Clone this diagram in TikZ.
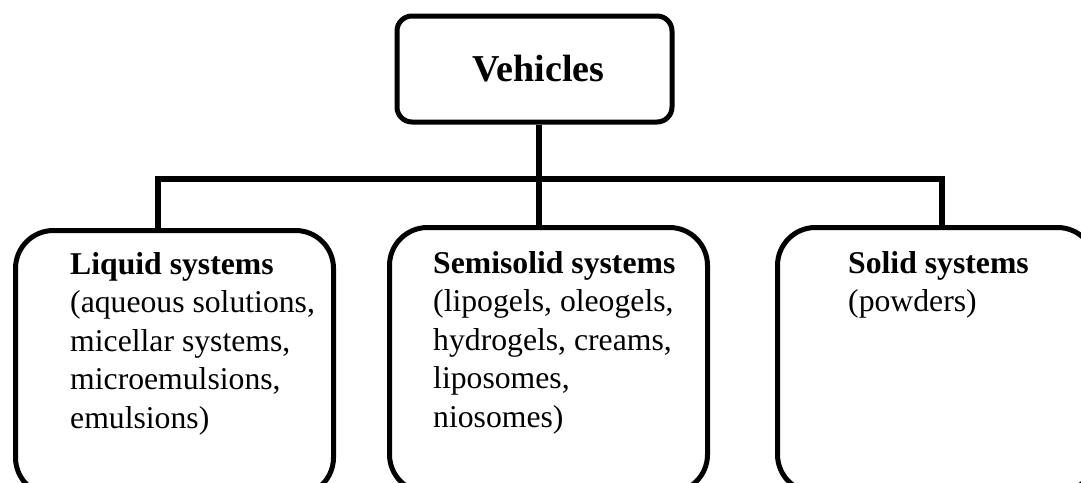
\documentclass[tikz,border=0pt]{standalone}
\usepackage{fontspec}
\setmainfont{Liberation Serif}
\begin{document}
\begin{tikzpicture}[x=1pt,y=-1pt,
  topbox/.style={draw, line width=5pt, rounded corners=15pt, inner sep=0pt,
    minimum width=275pt, minimum height=106pt,
    font=\fontsize{38}{45}\selectfont\bfseries},
  catbox/.style={draw, line width=5pt, rounded corners=38pt, inner sep=0pt,
    minimum width=318pt, minimum height=265pt, anchor=north west},
  bodytext/.style={inner sep=0pt, anchor=base west,
    font=\fontsize{31.7}{38.5}\selectfont},
  conn/.style={draw, line width=5.5pt, line join=miter}]
\useasboundingbox (0,0) rectangle (1081,482);
\clip (0,0) rectangle (1081,482);
\node[topbox] (veh) at (534.5,69) {\hspace*{8pt}Vehicles};
\node[catbox] (lb) at (13,228) {};
\node[catbox] (mb) at (387,225) {};
\node[catbox] (rb) at (775,225) {};
\node[bodytext] (lt) at (70,274) {\begin{tabular}[t]{@{}l@{}}\textbf{Liquid systems}\\(aqueous solutions,\\micellar systems,\\microemulsions,\\emulsions)\end{tabular}};
\node[bodytext] (mt) at (433,273) {\begin{tabular}[t]{@{}l@{}}\textbf{Semisolid systems}\\(lipogels, oleogels,\\hydrogels, creams,\\liposomes,\\niosomes)\end{tabular}};
\node[bodytext] (rt) at (848,273) {\begin{tabular}[t]{@{}l@{}}\textbf{Solid systems}\\(powders)\end{tabular}};
\coordinate (jl) at (158,179);
\coordinate (jm) at (539,179);
\coordinate (jr) at (942,179);
\draw[conn] (jm |- veh.south) -- (jm |- mb.north);
\draw[conn] (jl |- lb.north) -- (jl) -- (jr) -- (jr |- rb.north);
\end{tikzpicture}
\end{document}
